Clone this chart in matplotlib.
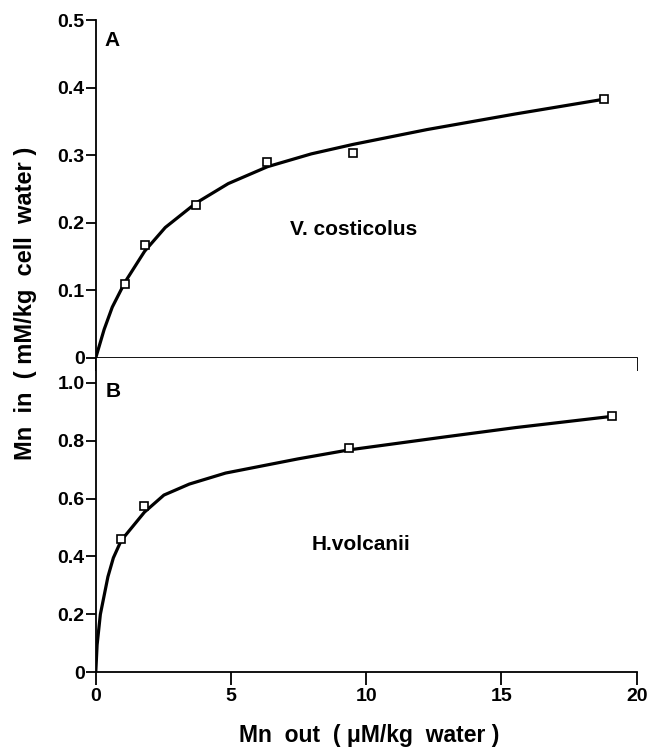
import numpy as np
import matplotlib
matplotlib.use("Agg")
import matplotlib.pyplot as plt

plt.rcParams['font.family'] = ['Liberation Sans', 'DejaVu Sans']
plt.rcParams['font.weight'] = 'bold'

# --- panel A : V. costicolus ---
xa_pts = [1.08, 1.81, 3.70, 6.35, 9.51, 18.8]
ya_pts = [0.110, 0.167, 0.227, 0.290, 0.303, 0.383]
xa_curve = [0.0, 0.31, 0.61, 1.08, 1.81, 2.57, 3.70, 4.90, 6.35, 7.97, 9.51, 12.25, 15.5, 18.8]
ya_curve = [0.0, 0.042, 0.075, 0.112, 0.158, 0.193, 0.229, 0.258, 0.283, 0.302, 0.316, 0.338, 0.361, 0.383]

# --- panel B : H. volcanii ---
xb_pts = [0.94, 1.80, 9.36, 19.1]
yb_pts = [0.459, 0.574, 0.774, 0.886]
xb_curve = [0.0, 0.05, 0.17, 0.45, 0.65, 0.94, 1.80, 2.52, 3.46, 4.80, 7.48, 9.36, 12.84, 15.52, 19.1]
yb_curve = [0.0, 0.095, 0.20, 0.33, 0.395, 0.455, 0.553, 0.612, 0.650, 0.688, 0.737, 0.768, 0.812, 0.845, 0.884]

ya_ticks = [0, 0.1, 0.2, 0.3, 0.4, 0.5]
ya_labels = ['0', '0.1', '0.2', '0.3', '0.4', '0.5']
yb_ticks = [0, 0.2, 0.4, 0.6, 0.8, 1.0]
yb_labels = ['0', '0.2', '0.4', '0.6', '0.8', '1.0']
x_ticks = [0, 5, 10, 15, 20]

fig = plt.figure(figsize=(6.47, 7.47), dpi=100)
left, width = 0.148, 0.836
axA = fig.add_axes([left, 0.521, width, 0.452])
axB = fig.add_axes([left, 0.100, width, 0.421])


def style(ax):
    for s in ['top', 'right']:
        ax.spines[s].set_visible(False)
    for s in ['left', 'bottom']:
        ax.spines[s].set_linewidth(1.3)
    ax.tick_params(axis='y', direction='out', length=7, width=1.3, pad=1, labelsize=14)
    ax.tick_params(axis='x', direction='out', length=9, width=1.3, pad=2, labelsize=14)
    ax.set_xlim(0, 20)
    ax.set_xticks(x_ticks)


style(axA)
axA.plot(xa_curve, ya_curve, color='black', lw=2.3, zorder=2)
axA.plot(xa_pts, ya_pts, 's', ms=6, mfc='white', mec='black', mew=1.2, zorder=3)
axA.set_ylim(0, 0.5)
axA.set_yticks(ya_ticks)
axA.set_yticklabels(ya_labels)
axA.set_xticklabels([])
axA.text(0.33, 0.47, 'A', fontsize=15, fontweight='bold', va='center', ha='left')
axA.text(7.2, 0.19, 'V. costicolus', fontsize=15, fontweight='bold', va='center', ha='left')

style(axB)
axB.plot(xb_curve, yb_curve, color='black', lw=2.3, zorder=2)
axB.plot(xb_pts, yb_pts, 's', ms=6, mfc='white', mec='black', mew=1.2, zorder=3)
axB.set_ylim(0, 1.086)
axB.set_yticks(yb_ticks)
axB.set_yticklabels(yb_labels)
axB.set_xticklabels(['0', '5', '10', '15', '20'])
axB.text(0.36, 0.97, 'B', fontsize=15, fontweight='bold', va='center', ha='left')
axB.text(8.0, 0.44, 'H.volcanii', fontsize=15, fontweight='bold', va='center', ha='left')

fig.text(0.04, 0.594, 'Mn  in  ( mM/kg  cell  water )', rotation=90, fontsize=17,
         fontweight='bold', ha='center', va='center')
fig.text(0.57, 0.007, 'Mn  out  ( \u03bcM/kg  water )', fontsize=16.5,
         fontweight='bold', ha='center', va='baseline')

fig.savefig('out.png', dpi=100)
